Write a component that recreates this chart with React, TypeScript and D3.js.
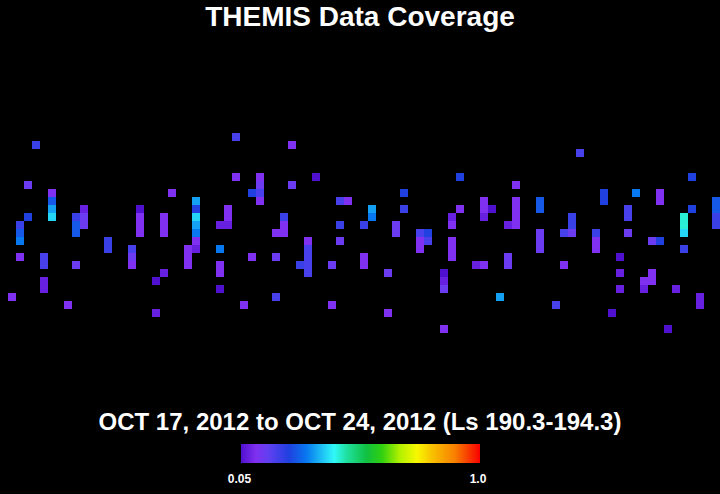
import React from "react";
import * as d3 from "d3";

const W = 720;
const H = 494;

const titleText = "THEMIS Data Coverage";
const subtitleText = "OCT 17, 2012 to OCT 24, 2012 (Ls 190.3-194.3)";
const legendMin = 0.05;
const legendMax = 1.0;
const legendLabels = ["0.05", "1.0"];

// colour ramp stops (value -> colour)
const rampValues = [0.05, 0.11, 0.16, 0.24, 0.31, 0.42, 0.47, 0.55, 0.61, 0.68, 0.75, 0.81, 0.9, 1.0];
const rampColors = ["#5010d0", "#8030f0", "#6040f0", "#2040e0", "#0878f0", "#30f8f8", "#20e0a0", "#10c040", "#30d010", "#b0f000", "#f8f800", "#f8c000", "#f88000", "#f80000"];

// grid: 90 longitude bins x 25 latitude bins
const nCols = 90;
const nRows = 25;

// [column, row, coverage value]
const cells: [number, number, number][] = [
  [1, 20, 0.11],
  [2, 11, 0.21], [2, 12, 0.27], [2, 13, 0.31], [2, 15, 0.11],
  [3, 6, 0.145], [3, 10, 0.24],
  [4, 1, 0.21],
  [5, 15, 0.19], [5, 16, 0.19], [5, 18, 0.08], [5, 19, 0.08],
  [6, 7, 0.11], [6, 8, 0.27], [6, 9, 0.345], [6, 10, 0.39],
  [8, 21, 0.11],
  [9, 10, 0.21], [9, 11, 0.27], [9, 12, 0.27], [9, 16, 0.145],
  [10, 9, 0.08], [10, 10, 0.145], [10, 11, 0.145],
  [13, 13, 0.21], [13, 14, 0.21],
  [16, 14, 0.19], [16, 15, 0.145], [16, 16, 0.11],
  [17, 9, 0.05], [17, 10, 0.11], [17, 11, 0.11], [17, 12, 0.11],
  [19, 18, 0.05], [19, 22, 0.08],
  [20, 10, 0.11], [20, 11, 0.11], [20, 12, 0.11], [20, 17, 0.08],
  [21, 7, 0.11],
  [23, 14, 0.11], [23, 15, 0.11], [23, 16, 0.11],
  [24, 8, 0.345], [24, 9, 0.24], [24, 10, 0.39], [24, 11, 0.345], [24, 12, 0.31], [24, 13, 0.11], [24, 14, 0.08],
  [27, 11, 0.08], [27, 14, 0.31], [27, 16, 0.11], [27, 17, 0.11], [27, 19, 0.05],
  [28, 9, 0.11], [28, 10, 0.11], [28, 11, 0.08],
  [29, 0, 0.19], [29, 5, 0.11],
  [30, 21, 0.11],
  [31, 7, 0.24], [31, 15, 0.11],
  [32, 5, 0.11], [32, 6, 0.145], [32, 7, 0.19], [32, 8, 0.11],
  [34, 12, 0.11], [34, 15, 0.145], [34, 20, 0.19],
  [35, 10, 0.21], [35, 11, 0.11], [35, 12, 0.11],
  [36, 1, 0.11], [36, 6, 0.145],
  [37, 16, 0.21],
  [38, 13, 0.11], [38, 14, 0.19], [38, 15, 0.19], [38, 16, 0.19], [38, 17, 0.19],
  [39, 5, 0.05],
  [41, 16, 0.145], [41, 21, 0.11],
  [42, 8, 0.19], [42, 11, 0.21], [42, 13, 0.145],
  [43, 8, 0.11],
  [45, 11, 0.21], [45, 15, 0.11], [45, 16, 0.11],
  [46, 9, 0.345], [46, 10, 0.31],
  [48, 17, 0.145], [48, 22, 0.11],
  [49, 11, 0.145], [49, 12, 0.145],
  [50, 7, 0.24], [50, 9, 0.21],
  [52, 12, 0.19], [52, 13, 0.11], [52, 14, 0.11],
  [53, 12, 0.24], [53, 13, 0.19],
  [55, 17, 0.05], [55, 18, 0.08], [55, 19, 0.145], [55, 24, 0.11],
  [56, 10, 0.08], [56, 11, 0.11], [56, 13, 0.11], [56, 14, 0.11], [56, 15, 0.11],
  [57, 5, 0.24], [57, 9, 0.11],
  [59, 16, 0.08],
  [60, 8, 0.11], [60, 9, 0.11], [60, 10, 0.08], [60, 16, 0.11],
  [61, 9, 0.05],
  [62, 20, 0.345],
  [63, 11, 0.08], [63, 15, 0.145], [63, 16, 0.145],
  [64, 6, 0.11], [64, 8, 0.11], [64, 9, 0.11], [64, 10, 0.11], [64, 11, 0.11],
  [67, 8, 0.27], [67, 9, 0.27], [67, 12, 0.145], [67, 13, 0.145], [67, 14, 0.145],
  [69, 21, 0.19],
  [70, 12, 0.19], [70, 16, 0.11],
  [71, 10, 0.21], [71, 11, 0.21], [71, 12, 0.145],
  [72, 2, 0.19],
  [74, 12, 0.21], [74, 13, 0.11], [74, 14, 0.11],
  [75, 7, 0.24], [75, 8, 0.24],
  [76, 22, 0.05],
  [77, 15, 0.05], [77, 17, 0.08], [77, 19, 0.08],
  [78, 9, 0.19], [78, 10, 0.19], [78, 12, 0.145],
  [79, 7, 0.31],
  [80, 18, 0.11], [80, 19, 0.08],
  [81, 13, 0.145], [81, 17, 0.11], [81, 18, 0.11],
  [82, 7, 0.11], [82, 8, 0.11], [82, 13, 0.24],
  [83, 24, 0.05],
  [84, 19, 0.08],
  [85, 10, 0.44], [85, 11, 0.44], [85, 12, 0.39], [85, 14, 0.21],
  [86, 5, 0.24], [86, 9, 0.24],
  [87, 20, 0.08], [87, 21, 0.08],
  [89, 8, 0.27], [89, 9, 0.27], [89, 10, 0.21], [89, 11, 0.21],
];

export default function App() {
  const x = d3.scaleLinear().domain([0, nCols]).range([0, W]);
  const y = d3.scaleLinear().domain([0, nRows]).range([133, 333]);
  const color = d3
    .scaleLinear<string>()
    .domain(rampValues)
    .range(rampColors)
    .interpolate(d3.interpolateRgb)
    .clamp(true);

  const barX0 = 241;
  const barX1 = 480;
  const legendScale = d3.scaleLinear().domain([legendMin, legendMax]).range([barX0, barX1]);
  const font = "'Liberation Sans', Arial, Helvetica, sans-serif";

  return (
    <svg
      width={W}
      height={H}
      style={{ position: "absolute", left: 0, top: 0, display: "block", background: "#000" }}
    >
      <defs>
        <linearGradient id="ramp" x1="0" x2="1" y1="0" y2="0">
          {rampValues.map((v, i) => (
            <stop
              key={i}
              offset={(v - legendMin) / (legendMax - legendMin)}
              stopColor={rampColors[i]}
            />
          ))}
        </linearGradient>
      </defs>
      <rect x={0} y={0} width={W} height={H} fill="#000" />
      <text
        x={W / 2}
        y={26}
        textAnchor="middle"
        fill="#fff"
        fontFamily={font}
        fontWeight="bold"
        fontSize={28}
      >
        {titleText}
      </text>
      <g>
        {cells.map(([c, r, v], i) => (
          <rect
            key={i}
            x={x(c)}
            y={y(r)}
            width={x(c + 1) - x(c)}
            height={y(r + 1) - y(r)}
            fill={color(v)}
          />
        ))}
      </g>
      <text
        x={W / 2}
        y={429.5}
        textAnchor="middle"
        fill="#fff"
        fontFamily={font}
        fontWeight="bold"
        fontSize={24}
      >
        {subtitleText}
      </text>
      <rect
        x={legendScale(legendMin)}
        y={444}
        width={legendScale(legendMax) - legendScale(legendMin)}
        height={19}
        fill="url(#ramp)"
      />
      <text
        x={legendScale(legendMin) - 1.5}
        y={483}
        textAnchor="middle"
        fill="#fff"
        fontFamily={font}
        fontWeight="bold"
        fontSize={12}
      >
        {legendLabels[0]}
      </text>
      <text
        x={legendScale(legendMax) - 2}
        y={483}
        textAnchor="middle"
        fill="#fff"
        fontFamily={font}
        fontWeight="bold"
        fontSize={12}
      >
        {legendLabels[1]}
      </text>
    </svg>
  );
}
